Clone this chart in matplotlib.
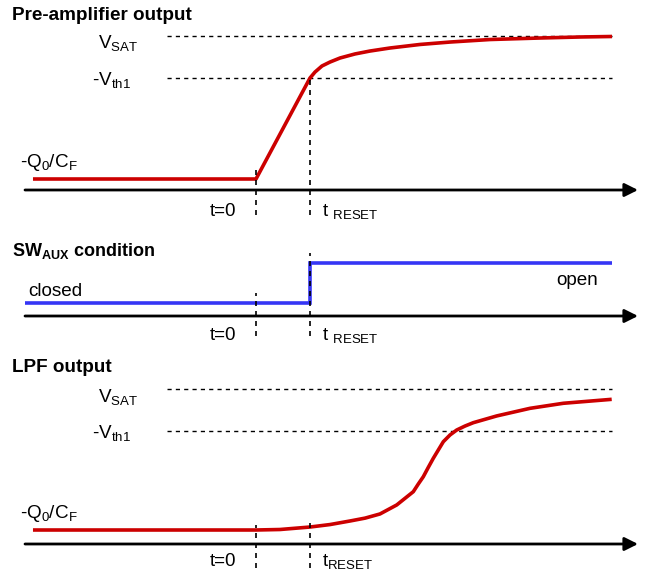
import matplotlib
matplotlib.use('Agg')
import matplotlib.pyplot as plt

plt.rcParams['font.family'] = ['Liberation Sans', 'DejaVu Sans']
plt.rcParams['mathtext.fontset'] = 'custom'
plt.rcParams['mathtext.rm'] = 'Liberation Sans'
plt.rcParams['mathtext.it'] = 'Liberation Sans:italic'
plt.rcParams['mathtext.bf'] = 'Liberation Sans:bold'

# ─── data (time: t=0 -> 0, t_RESET -> 1 ; level: -Q0/CF -> 0, -Vth1 -> 1) ───
pre_t = [-4.13, 0.0, 1.0, 1.093, 1.222, 1.37, 1.556, 1.833, 2.111, 2.481,
         3.037, 3.593, 4.333, 5.259, 6.0, 6.593]
pre_v = [0.0, 0.0, 1.0, 1.059, 1.119, 1.158, 1.198, 1.238, 1.267, 1.297,
         1.332, 1.356, 1.381, 1.396, 1.406, 1.411]
pre_vsat = 1.416

sw_t = [-4.28, 1.0, 1.0, 6.59]
sw_v = [0, 0, 1, 1]          # 0 = closed, 1 = open

lpf_t = [-4.13, 0.0, 0.444, 1.0, 1.37, 1.741, 2.02, 2.296, 2.606, 2.913,
         3.006, 3.098, 3.191, 3.283, 3.376, 3.469, 3.593, 3.717, 3.870,
         4.024, 4.457, 5.074, 5.691, 6.587]
lpf_v = [0.0, 0.0, 0.005, 0.03, 0.055, 0.091, 0.12, 0.162, 0.253, 0.387,
         0.465, 0.538, 0.633, 0.724, 0.808, 0.892, 0.96, 1.010, 1.05,
         1.084, 1.152, 1.229, 1.280, 1.320]
lpf_vsat = 1.424

t_marks = [0.0, 1.0]

W, H = 649, 581
RED = '#cc0000'
BLUE = '#3535f5'
DASH = (0, (3, 3))

fig = plt.figure(figsize=(W / 100, H / 100), dpi=100)

# x: t=0 at px 256, t_RESET at px 310
X0, XU = 256, 54
xlim = (-X0 / XU, (W - X0) / XU)


def panel(top, bot, p0, p1):
    """axes spanning pixel rows top..bot, level 0 at row p0, level 1 at row p1"""
    ax = fig.add_axes([0, 1 - bot / H, 1, (bot - top) / H])
    lv = lambda p: (p0 - p) / (p0 - p1)
    ax.set_xlim(*xlim)
    ax.set_ylim(lv(bot), lv(top))
    ax.axis('off')
    return ax, lv


def px(x):
    return (x - X0) / XU


def time_axis(ax, y):
    ax.annotate('', xy=(px(638), y), xytext=(px(25), y),
                arrowprops=dict(arrowstyle='-|>', lw=2, color='black',
                                mutation_scale=20, shrinkA=0, shrinkB=0))


def txt(x, y, s, **kw):
    fig.text(x / W, 1 - y / H, s, va='baseline', **kw)


FS = 13.6
TS = 13.6
curve = dict(lw=2.6, solid_capstyle='butt', solid_joinstyle='round', zorder=2)
vdash = dict(colors='black', lw=1.2, linestyles=DASH, zorder=3)

# ─── Pre-amplifier output ───
ax1, lv1 = panel(0, 230, 179, 78)
ax1.hlines([pre_vsat, 1.0], px(167), px(612), colors='black', lw=1, linestyles=DASH)
ax1.vlines(t_marks[0], lv1(215), lv1(168), **vdash)
ax1.vlines(t_marks[1], lv1(215), 1.0, **vdash)
time_axis(ax1, lv1(190))
ax1.plot(pre_t, pre_v, color=RED, **curve)

txt(12, 20, 'Pre-amplifier output', fontsize=TS, fontweight='bold')
txt(138, 48, r'$\mathrm{V_{SAT}}$', fontsize=FS, ha='right')
txt(131, 85, r'-$\mathrm{V_{th1}}$', fontsize=FS, ha='right')
txt(20, 167, r'-$\mathrm{Q_0/C_F}$', fontsize=FS)
txt(236, 216, 't=0', fontsize=FS, ha='right')
txt(322, 216, r'$\mathrm{t\ {}_{RESET}}$', fontsize=FS)

# ─── SW_AUX condition ───
ax2, lv2 = panel(230, 355, 303, 263)
ax2.vlines(t_marks[0], lv2(336), lv2(293), **vdash)
ax2.vlines(t_marks[1], lv2(336), lv2(253), **vdash)
time_axis(ax2, lv2(316))
ax2.plot(sw_t, sw_v, color=BLUE, lw=2.6, solid_capstyle='butt',
         solid_joinstyle='miter', zorder=2)

txt(12, 256, r'$\mathbf{SW_{AUX}}$ condition', fontsize=13, fontweight='bold')
txt(28, 296, 'closed', fontsize=FS)
txt(556, 285, 'open', fontsize=FS)
txt(236, 340, 't=0', fontsize=FS, ha='right')
txt(322, 340, r'$\mathrm{t\ {}_{RESET}}$', fontsize=FS)

# ─── LPF output ───
ax3, lv3 = panel(355, 581, 530, 431)
ax3.hlines([lpf_vsat, 1.0], px(167), px(612), colors='black', lw=1, linestyles=DASH)
ax3.vlines(t_marks[0], lv3(568), lv3(525), **vdash)
ax3.vlines(t_marks[1], lv3(568), lv3(518), **vdash)
time_axis(ax3, lv3(544))
ax3.plot(lpf_t, lpf_v, color=RED, **curve)

txt(12, 372, 'LPF output', fontsize=TS, fontweight='bold')
txt(138, 402, r'$\mathrm{V_{SAT}}$', fontsize=FS, ha='right')
txt(131, 438, r'-$\mathrm{V_{th1}}$', fontsize=FS, ha='right')
txt(20, 518, r'-$\mathrm{Q_0/C_F}$', fontsize=FS)
txt(236, 566, 't=0', fontsize=FS, ha='right')
txt(322, 566, r'$\mathrm{t_{RESET}}$', fontsize=FS)

fig.savefig('out.png', dpi=100, facecolor='white')
